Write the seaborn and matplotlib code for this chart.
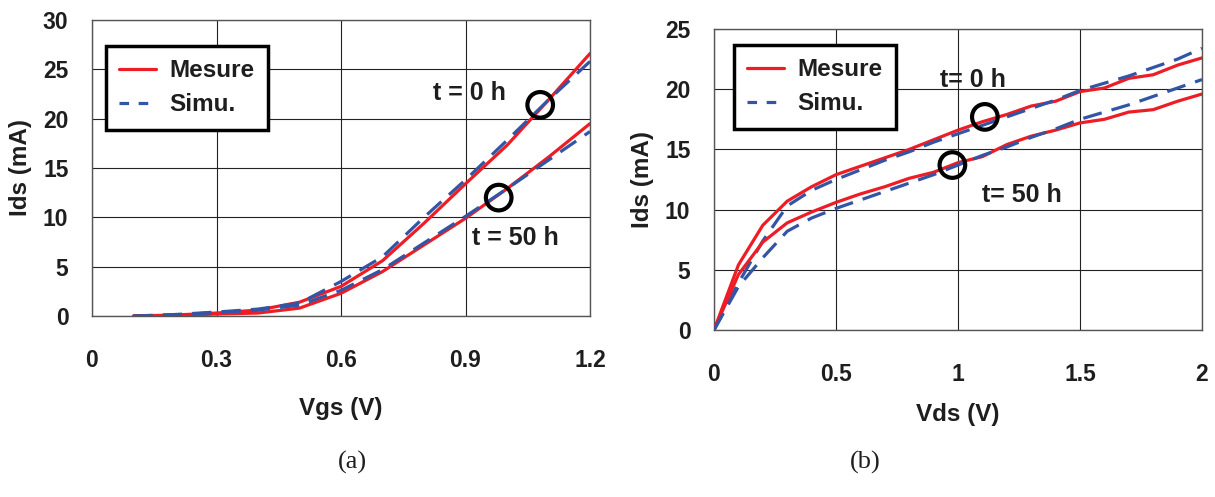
import numpy as np
import pandas as pd
import matplotlib
matplotlib.use("Agg")
import matplotlib.pyplot as plt
import seaborn as sns
from matplotlib.lines import Line2D

# ---------------- data (a) Ids vs Vgs ----------------
vgs = [0.1, 0.2, 0.3, 0.4, 0.5, 0.6, 0.7, 0.8, 0.9, 1.0, 1.1, 1.2]
ids_a_mes_t0 = [0.0, 0.1, 0.3, 0.6, 1.4, 3.0, 5.6, 9.4, 13.4, 17.3, 21.9, 26.6]
ids_a_sim_t0 = [0.0, 0.15, 0.4, 0.7, 1.3, 3.5, 6.0, 10.0, 13.8, 17.8, 21.9, 25.8]
ids_a_mes_t50 = [0.0, 0.05, 0.2, 0.3, 0.8, 2.3, 4.5, 7.2, 9.9, 12.9, 16.1, 19.5]
ids_a_sim_t50 = [0.0, 0.1, 0.35, 0.6, 1.1, 2.6, 4.7, 7.4, 10.1, 12.9, 15.8, 18.7]
circles_a_x = [1.08, 0.98]
circles_a_y = [21.4, 12.0]

# ---------------- data (b) Ids vs Vds ----------------
vds = [0.0, 0.1, 0.2, 0.3, 0.4, 0.5, 0.6, 0.7, 0.8, 0.9, 1.0,
       1.1, 1.2, 1.3, 1.4, 1.5, 1.6, 1.7, 1.8, 1.9, 2.0]
ids_b_mes_t0 = [0.0, 5.4, 8.7, 10.7, 11.9, 12.9, 13.6, 14.3, 15.0, 15.8, 16.6,
                17.3, 17.9, 18.6, 19.0, 19.8, 20.1, 20.9, 21.2, 22.0, 22.6]
ids_b_sim_t0 = [0.0, 3.9, 7.4, 10.3, 11.6, 12.5, 13.3, 14.1, 14.8, 15.6, 16.3,
                17.0, 17.7, 18.4, 19.1, 19.9, 20.5, 21.1, 21.8, 22.5, 23.4]
ids_b_mes_t50 = [0.0, 4.6, 7.3, 8.9, 9.8, 10.6, 11.3, 11.9, 12.6, 13.1, 13.9,
                 14.4, 15.4, 16.1, 16.6, 17.2, 17.5, 18.1, 18.3, 19.0, 19.6]
ids_b_sim_t50 = [0.0, 3.6, 6.0, 8.2, 9.3, 10.1, 10.8, 11.5, 12.2, 12.9, 13.7,
                 14.5, 15.2, 16.0, 16.7, 17.5, 18.1, 18.7, 19.4, 20.1, 20.8]
circles_b_x = [1.11, 0.977]
circles_b_y = [17.7, 13.7]

legend_labels = ["Mesure", "Simu."]
RED = "#ee1c25"
BLUE = "#3355a5"
TXT = "#1e1e1e"

sns.set_theme(style="white")
plt.rcParams["font.family"] = ["Liberation Sans", "DejaVu Sans"]
plt.rcParams["font.weight"] = "bold"

fig = plt.figure(figsize=(12.15, 4.97), dpi=100)
ax1 = fig.add_axes([92 / 1215, 1 - 316 / 497, 498 / 1215, 296 / 497])
ax2 = fig.add_axes([714 / 1215, 1 - 330 / 497, 488 / 1215, 301 / 497])

LW = 2.3
DASH = (6, 3.2)


def draw(ax, x, y, color, dashed):
    sns.lineplot(x=x, y=y, ax=ax, color=color, lw=LW, sort=False,
                 linestyle=(0, DASH) if dashed else "-", zorder=3)


draw(ax1, vgs, ids_a_mes_t0, RED, False)
draw(ax1, vgs, ids_a_sim_t0, BLUE, True)
draw(ax1, vgs, ids_a_mes_t50, RED, False)
draw(ax1, vgs, ids_a_sim_t50, BLUE, True)

draw(ax2, vds, ids_b_mes_t0, RED, False)
draw(ax2, vds, ids_b_sim_t0, BLUE, True)
draw(ax2, vds, ids_b_mes_t50, RED, False)
draw(ax2, vds, ids_b_sim_t50, BLUE, True)

for ax, cx, cy in [(ax1, circles_a_x, circles_a_y), (ax2, circles_b_x, circles_b_y)]:
    ax.scatter(cx, cy, s=340, facecolors="none", edgecolors="black",
               linewidths=3, zorder=5)

# axes formatting
ax1.set_xlim(0, 1.2)
ax1.set_ylim(0, 30)
ax1.set_xticks([0, 0.3, 0.6, 0.9, 1.2])
ax1.set_xticklabels(["0", "0.3", "0.6", "0.9", "1.2"])
ax1.set_yticks(range(0, 31, 5))
ax1.set_xlabel("Vgs (V)", fontsize=17.5, fontweight="bold", labelpad=18, color=TXT)
ax1.set_ylabel("Ids (mA)", fontsize=17.5, fontweight="bold", labelpad=8, color=TXT)

ax2.set_xlim(0, 2)
ax2.set_ylim(0, 25)
ax2.set_xticks([0, 0.5, 1, 1.5, 2])
ax2.set_xticklabels(["0", "0.5", "1", "1.5", "2"])
ax2.set_yticks(range(0, 26, 5))
ax2.set_xlabel("Vds (V)", fontsize=17.5, fontweight="bold", labelpad=12, color=TXT)
ax2.set_ylabel("Ids (mA)", fontsize=17.5, fontweight="bold", labelpad=8, color=TXT)

for ax in (ax1, ax2):
    ax.grid(True, color="#222222", lw=0.8)
    ax.set_axisbelow(True)
    for s in ax.spines.values():
        s.set_color("#555555")
        s.set_linewidth(1.0)
    ax.tick_params(axis="both", which="major", direction="out", length=8,
                   width=1.0, color="#555555", labelsize=16.5,
                   labelcolor=TXT)
    ax.tick_params(axis="x", pad=16)
    ax.tick_params(axis="y", pad=9)
    for lab in ax.get_xticklabels() + ax.get_yticklabels():
        lab.set_fontweight("bold")

handles = [Line2D([], [], color=RED, lw=LW),
           Line2D([], [], color=BLUE, lw=LW, linestyle=(0, (3, 3)))]

for ax, bbox in [(ax1, (0.028, 0.912)), (ax2, (0.041, 0.947))]:
    leg = ax.legend(handles, legend_labels, loc="upper left", bbox_to_anchor=bbox,
                    frameon=True, fancybox=False, framealpha=1,
                    prop={"size": 17.5, "weight": "bold"}, handlelength=1.5,
                    handletextpad=0.55, borderpad=0.55, labelspacing=0.45,
                    borderaxespad=0)
    leg.get_frame().set_edgecolor("black")
    leg.get_frame().set_linewidth(2.5)
    leg.set_zorder(6)
    for t in leg.get_texts():
        t.set_color(TXT)

ax1.text(0.91, 22.6, "t = 0 h", fontsize=18, fontweight="bold", color=TXT,
         ha="center", va="center", zorder=4)
ax1.text(1.02, 7.9, "t = 50 h", fontsize=18, fontweight="bold", color=TXT,
         ha="center", va="center", zorder=4)
ax2.text(1.06, 20.8, "t= 0 h", fontsize=18, fontweight="bold", color=TXT,
         ha="center", va="center", zorder=4)
ax2.text(1.26, 11.2, "t= 50 h", fontsize=18, fontweight="bold", color=TXT,
         ha="center", va="center", zorder=4)

fig.text(352 / 1215, 1 - 462 / 497, "(a)", fontsize=19, family="Liberation Serif",
         fontweight="normal", ha="center", va="center", color=TXT)
fig.text(865 / 1215, 1 - 462 / 497, "(b)", fontsize=19, family="Liberation Serif",
         fontweight="normal", ha="center", va="center", color=TXT)

fig.savefig("out.png", dpi=100)
